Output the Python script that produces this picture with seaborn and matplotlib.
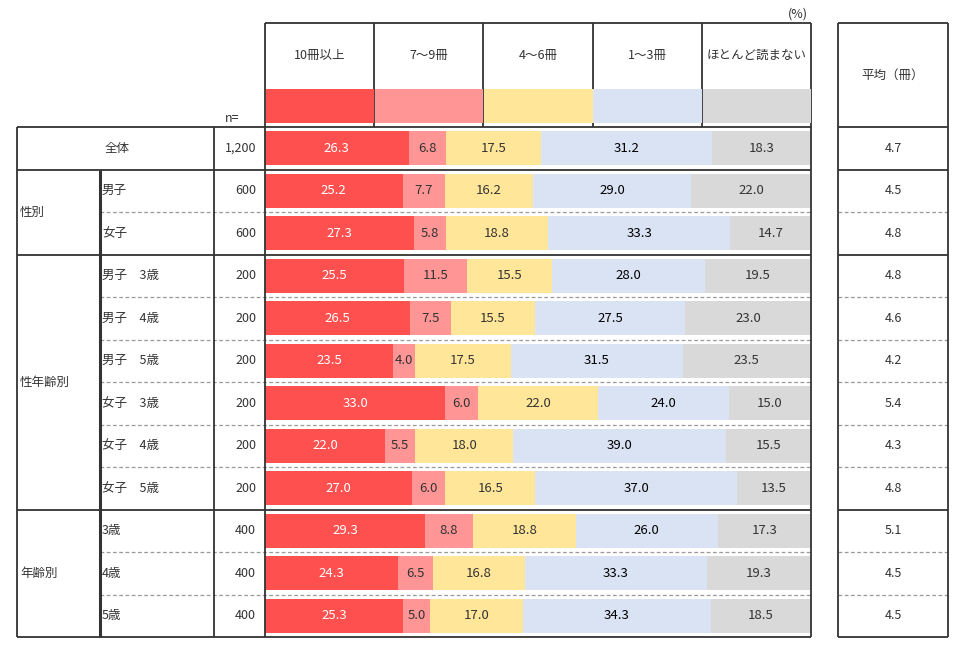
import numpy as np
import pandas as pd
import matplotlib
matplotlib.use("Agg")
import matplotlib.pyplot as plt
from matplotlib.patches import Rectangle
import seaborn as sns

# ---- data ----
categories = ["10冊以上", "7～9冊", "4～6冊", "1～3冊", "ほとんど読まない"]
row_labels = ["全体", "男子", "女子",
              "男子　3歳", "男子　4歳", "男子　5歳",
              "女子　3歳", "女子　4歳", "女子　5歳",
              "3歳", "4歳", "5歳"]
n_values = ["1,200", "600", "600", "200", "200", "200",
            "200", "200", "200", "400", "400", "400"]
groups = [("性別", 1, 2), ("性年齢別", 3, 8), ("年齢別", 9, 11)]

ten_plus = [26.3, 25.2, 27.3, 25.5, 26.5, 23.5, 33.0, 22.0, 27.0, 29.3, 24.3, 25.3]
seven_nine = [6.8, 7.7, 5.8, 11.5, 7.5, 4.0, 6.0, 5.5, 6.0, 8.8, 6.5, 5.0]
four_six = [17.5, 16.2, 18.8, 15.5, 15.5, 17.5, 22.0, 18.0, 16.5, 18.8, 16.8, 17.0]
one_three = [31.2, 29.0, 33.3, 28.0, 27.5, 31.5, 24.0, 39.0, 37.0, 26.0, 33.3, 34.3]
rarely = [18.3, 22.0, 14.7, 19.5, 23.0, 23.5, 15.0, 15.5, 13.5, 17.3, 19.3, 18.5]
average = [4.7, 4.5, 4.8, 4.8, 4.6, 4.2, 5.4, 4.3, 4.8, 5.1, 4.5, 4.5]

colors = ["#FF5050", "#FF9595", "#FFE699", "#DAE3F3", "#D9D9D9"]
text_colors = ["white", "#333333", "#333333", "black", "#333333"]

sns.set_theme(style="white")
plt.rcParams["font.family"] = ["Noto Sans CJK JP", "DejaVu Sans"]

W, H = 959, 655
fig = plt.figure(figsize=(W / 100, H / 100), dpi=100)

# bar area in pixel coordinates
BX0, BX1 = 265, 811
TOP, HDR, BOT = 23, 127, 637
nrows = len(row_labels)
rh = (BOT - HDR) / nrows

df = pd.DataFrame({"row": row_labels, categories[0]: ten_plus, categories[1]: seven_nine,
                   categories[2]: four_six, categories[3]: one_three, categories[4]: rarely})
cum = df[categories].cumsum(axis=1)

ax = fig.add_axes([BX0 / W, 1 - BOT / H, (BX1 - BX0) / W, (BOT - HDR) / H])
# stacked bars: draw cumulative totals from the longest back to the shortest
for cat, col in reversed(list(zip(categories, colors))):
    sns.barplot(x=cum[cat], y=df["row"], order=row_labels, color=col,
                orient="h", width=0.8, saturation=1, ax=ax, linewidth=0)
ax.set_xlim(0, 100)
ax.set_ylim(nrows - 0.5, -0.5)
ax.axis("off")

for i in range(nrows):
    left = 0
    for j, cat in enumerate(categories):
        v = df.loc[i, cat]
        xc = left + v / 2
        if left + v > 100:
            xc = (left + 100) / 2
        ax.text(xc, i, f"{v:.1f}", ha="center", va="center",
                fontsize=9.5, color=text_colors[j])
        left += v

# overlay in pixel coordinates for table frame and text
ov = fig.add_axes([0, 0, 1, 1], zorder=3)
ov.set_xlim(0, W)
ov.set_ylim(H, 0)
ov.axis("off")
ov.patch.set_alpha(0)

dark = "#333333"
tc = "#333333"
lw = 1.3

def hline(y, x0, x1, solid=True):
    if solid:
        ov.plot([x0, x1], [y, y], color=dark, lw=lw, solid_capstyle="butt")
    else:
        ov.plot([x0, x1], [y, y], color="#999999", lw=0.9, ls=(0, (3, 2)))

def vline(x, y0, y1, w=lw):
    ov.plot([x, x], [y0, y1], color=dark, lw=w, solid_capstyle="butt")

# header with colour key
col_w = (BX1 - BX0) / len(categories)
hline(TOP, BX0, BX1)
for j, cat in enumerate(categories):
    x0 = BX0 + j * col_w
    ov.text(x0 + col_w / 2, 55, cat, ha="center", va="center", fontsize=9, color=tc)
    ov.add_patch(Rectangle((x0 + 0.7, 89), col_w - 0.7, 34, color=colors[j], lw=0, zorder=4))
    if j > 0:
        vline(x0, TOP, HDR)
ov.text(808, 14, "(%)", ha="right", va="center", fontsize=9, color=tc)
ov.text(232, 118, "n=", ha="center", va="center", fontsize=9, color=tc)

# row boundaries
solid_after = {0, 2, 8}
hline(HDR, 17, BX1)
hline(HDR, 838, 948)
for i in range(nrows - 1):
    y = HDR + (i + 1) * rh
    if i in solid_after:
        hline(y, 17, BX1)
        hline(y, 838, 948)
    else:
        hline(y, 100, BX1, solid=False)
        hline(y, 838, 948, solid=False)
hline(BOT, 17, BX1)
hline(BOT, 838, 948)

# vertical frame lines
vline(17, HDR, BOT)
vline(100, HDR + rh, BOT, w=2.2)
vline(214, HDR, BOT)
vline(BX0, TOP, BOT)
vline(BX1, TOP, BOT)
vline(838, TOP, BOT)
vline(948, TOP, BOT)
hline(TOP, 838, 948)

# row labels, n and averages
for i, (lab, n, avg) in enumerate(zip(row_labels, n_values, average)):
    yc = HDR + (i + 0.5) * rh
    if i == 0:
        ov.text(117, yc, lab, ha="center", va="center", fontsize=9, color=tc)
    else:
        ov.text(102, yc, lab, ha="left", va="center", fontsize=9, color=tc)
    ov.text(256, yc, n, ha="right", va="center", fontsize=9, color=tc)
    ov.text(893, yc, f"{avg:.1f}", ha="center", va="center", fontsize=9, color=tc)

for name, r0, r1 in groups:
    yc = HDR + (r0 + r1 + 1) / 2 * rh
    ov.text(20, yc, name, ha="left", va="center", fontsize=9, color=tc)

ov.text(893, 75, "平均（冊）", ha="center", va="center", fontsize=9, color=tc)

fig.savefig("out.png", dpi=100, facecolor="white")
